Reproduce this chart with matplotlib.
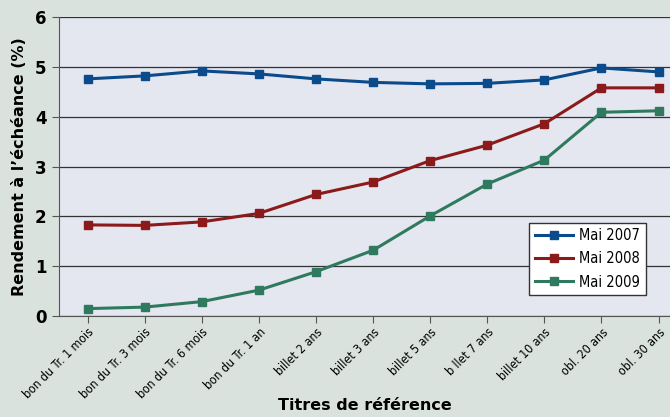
import matplotlib
matplotlib.use("Agg")
import matplotlib.pyplot as plt

categories = ["bon du Tr. 1 mois", "bon du Tr. 3 mois", "bon du Tr. 6 mois",
              "bon du Tr. 1 an", "billet 2 ans", "billet 3 ans", "billet 5 ans",
              "b llet 7 ans", "billet 10 ans", "obl. 20 ans", "obl. 30 ans"]
mai_2007 = [4.76, 4.82, 4.92, 4.86, 4.76, 4.69, 4.66, 4.67, 4.74, 4.98, 4.90]
mai_2008 = [1.83, 1.82, 1.89, 2.06, 2.44, 2.69, 3.12, 3.43, 3.86, 4.58, 4.58]
mai_2009 = [0.15, 0.18, 0.29, 0.52, 0.89, 1.32, 2.01, 2.65, 3.13, 4.09, 4.12]
yticks = [0, 1, 2, 3, 4, 5, 6]

fig = plt.figure(figsize=(6.7, 4.17), dpi=100, facecolor='#d9e2dc')
ax = fig.add_axes([0.088, 0.242, 0.912, 0.717])
ax.set_facecolor('#e4e6f0')

x = range(len(categories))
ax.plot(x, mai_2007, color='#0b4a8b', marker='s', markersize=6, lw=2.2, label='Mai 2007')
ax.plot(x, mai_2008, color='#8b1a1a', marker='s', markersize=6, lw=2.2, label='Mai 2008')
ax.plot(x, mai_2009, color='#2f7a5e', marker='s', markersize=6, lw=2.2, label='Mai 2009')

ax.set_ylim(0, 6)
ax.set_xlim(-0.5, 10.2)
ax.set_yticks(yticks)
ax.set_yticklabels([str(v) for v in yticks], fontsize=12, fontweight='bold')
ax.set_xticks(list(x))
ax.set_xticklabels(categories, rotation=45, ha='right', rotation_mode='anchor',
                   fontsize=8.8, fontstretch='condensed')
ax.yaxis.grid(True, color='#333333', lw=0.9)
ax.set_axisbelow(True)
for s in ['top', 'right']:
    ax.spines[s].set_visible(False)
ax.spines['left'].set_color('#555555')
ax.spines['bottom'].set_color('#555555')
ax.tick_params(axis='y', length=5, color='#555555', pad=4)
ax.tick_params(axis='x', length=5, color='#555555', pad=2)

ax.set_ylabel("Rendement à l’échéance (%)", fontsize=11.5, fontweight='bold', labelpad=6)
ax.set_xlabel("Titres de référence", fontsize=11.5, fontweight='bold')
ax.xaxis.set_label_coords(0.5, -0.275)

leg = ax.legend(loc='lower right', bbox_to_anchor=(0.972, 0.045),
                prop={'size': 10.5, 'stretch': 'condensed'},
                fancybox=False, framealpha=1, edgecolor='#333333',
                handlelength=2.6, handletextpad=0.4, borderpad=0.4, labelspacing=0.55)
leg.get_frame().set_linewidth(1)

fig.savefig('out.png', dpi=100, facecolor=fig.get_facecolor())
